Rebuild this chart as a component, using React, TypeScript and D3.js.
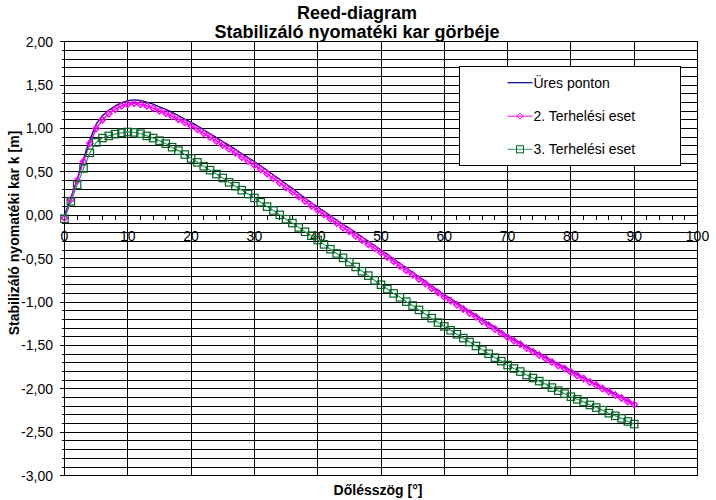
import React from "react";
import * as d3 from "d3";

const degrees: number[] = d3.range(0, 91);

const uresPonton: number[] = [
  0, 0.2, 0.42, 0.65, 0.87, 1.05, 1.15, 1.21, 1.26, 1.295,
  1.32, 1.33, 1.325, 1.305, 1.28, 1.25, 1.22, 1.185, 1.15, 1.11,
  1.07, 1.03, 0.985, 0.94, 0.895, 0.85, 0.805, 0.76, 0.71, 0.665,
  0.62, 0.57, 0.52, 0.465, 0.415, 0.36, 0.31, 0.255, 0.2, 0.145,
  0.095, 0.045, -0.005, -0.055, -0.105, -0.15, -0.2, -0.25, -0.3, -0.35,
  -0.4, -0.45, -0.505, -0.555, -0.605, -0.66, -0.71, -0.76, -0.815, -0.865,
  -0.915, -0.96, -1.01, -1.06, -1.105, -1.15, -1.2, -1.245, -1.29, -1.34,
  -1.385, -1.43, -1.47, -1.515, -1.555, -1.595, -1.635, -1.675, -1.715, -1.75,
  -1.79, -1.83, -1.87, -1.91, -1.945, -1.985, -2.02, -2.06, -2.095, -2.135,
  -2.17,
];

const terheles2: number[] = [
  -0.03, 0.18, 0.4, 0.62, 0.83, 1.0, 1.1, 1.17, 1.22, 1.26,
  1.28, 1.29, 1.28, 1.26, 1.235, 1.205, 1.175, 1.14, 1.105, 1.07,
  1.03, 0.99, 0.945, 0.9, 0.855, 0.81, 0.765, 0.72, 0.67, 0.625,
  0.58, 0.53, 0.48, 0.425, 0.375, 0.32, 0.27, 0.215, 0.165, 0.11,
  0.06, 0.01, -0.04, -0.09, -0.14, -0.185, -0.235, -0.285, -0.335, -0.38,
  -0.43, -0.48, -0.53, -0.585, -0.635, -0.685, -0.735, -0.785, -0.84, -0.89,
  -0.94, -0.985, -1.03, -1.08, -1.125, -1.17, -1.22, -1.265, -1.31, -1.36,
  -1.405, -1.445, -1.485, -1.53, -1.57, -1.61, -1.65, -1.69, -1.73, -1.765,
  -1.805, -1.845, -1.88, -1.92, -1.955, -1.995, -2.03, -2.07, -2.105, -2.145,
  -2.18,
];

const terheles3: number[] = [
  -0.04, 0.16, 0.35, 0.54, 0.72, 0.84, 0.89, 0.915, 0.935, 0.95,
  0.96, 0.955, 0.94, 0.915, 0.89, 0.86, 0.825, 0.785, 0.745, 0.7,
  0.655, 0.61, 0.565, 0.52, 0.475, 0.43, 0.38, 0.335, 0.29, 0.245,
  0.2, 0.15, 0.1, 0.055, 0.005, -0.045, -0.09, -0.14, -0.19, -0.235,
  -0.285, -0.335, -0.39, -0.44, -0.49, -0.54, -0.595, -0.645, -0.695, -0.75,
  -0.8, -0.85, -0.9, -0.945, -0.995, -1.04, -1.09, -1.14, -1.185, -1.235,
  -1.28, -1.325, -1.37, -1.415, -1.46, -1.505, -1.55, -1.595, -1.64, -1.68,
  -1.725, -1.765, -1.8, -1.84, -1.875, -1.91, -1.945, -1.985, -2.02, -2.055,
  -2.09, -2.12, -2.15, -2.185, -2.215, -2.245, -2.28, -2.31, -2.34, -2.375,
  -2.405,
];

const xTicks: number[] = [0, 10, 20, 30, 40, 50, 60, 70, 80, 90, 100];
const xMinorTicks: number[] = d3.range(0, 101, 2);
const yTicks: number[] = [-3, -2.5, -2, -1.5, -1, -0.5, 0, 0.5, 1, 1.5, 2];
const yGrid: number[] = d3.range(-30, 21).map((i) => i / 10);

const titleLines = ["Reed-diagram", "Stabilizáló nyomatéki kar görbéje"];
const xTitle = "Dőlésszög [°]";
const yTitle = "Stabilizáló nyomatéki kar k [m]";
const legendNames = ["Üres ponton", "2. Terhelési eset", "3. Terhelési eset"];

const W = 716;
const H = 500;
const FONT = "'Liberation Sans', Arial, sans-serif";

const NAVY = "#000080";
const MAGENTA = "#FF00FF";
const GREEN_LINE = "#339966";
const GREEN_MARK = "#006620";

export default function App() {
  const x = d3.scaleLinear().domain([0, 100]).range([64.5, 697.5]);
  const y = d3.scaleLinear().domain([-3, 2]).range([475.7, 41.7]);

  const line = (vals: number[]) =>
    d3
      .line<number>()
      .x((_, i) => x(degrees[i]))
      .y((v) => y(v))(vals) || "";

  const fmt = (v: number) => v.toFixed(2).replace(".", ",");

  const diamond = (cx: number, cy: number, r: number) =>
    `M${cx},${cy - r}L${cx + r},${cy}L${cx},${cy + r}L${cx - r},${cy}Z`;

  const lgX0 = 507.5;
  const lgX1 = 532.5;
  const lgMid = (lgX0 + lgX1) / 2;
  const lgYs = [82.7, 116.2, 149.3];

  return (
    <svg
      width={W}
      height={H}
      style={{ position: "absolute", left: 0, top: 0, background: "#fff" }}
      fontFamily={FONT}
    >
      <rect x={0} y={0} width={W} height={H} fill="#fff" />

      {/* title */}
      <text x={357} y={19} textAnchor="middle" fontSize={18} fontWeight="bold">
        {titleLines[0]}
      </text>
      <text x={357} y={37.5} textAnchor="middle" fontSize={18} fontWeight="bold">
        {titleLines[1]}
      </text>

      {/* x tick labels (gridlines cross them) */}
      {xTicks.map((t) => (
        <text key={"xl" + t} x={x(t)} y={240.5} textAnchor="middle" fontSize={14}>
          {t}
        </text>
      ))}

      {/* grid */}
      <g stroke="#000" strokeWidth={1} shapeRendering="crispEdges">
        {yGrid.map((v) => {
          const major = Math.abs(v * 2 - Math.round(v * 2)) < 1e-6;
          return (
            <line
              key={"hg" + v}
              x1={x(0) - (major ? 5 : 3)}
              x2={x(100)}
              y1={y(v)}
              y2={y(v)}
            />
          );
        })}
        {xTicks.map((t) => (
          <line key={"vg" + t} x1={x(t)} x2={x(t)} y1={y(2)} y2={y(-3)} />
        ))}
        {xMinorTicks.map((t) => (
          <line key={"mt" + t} x1={x(t)} x2={x(t)} y1={y(0)} y2={y(0) + 5} />
        ))}
        <rect
          x={x(0)}
          y={y(2)}
          width={x(100) - x(0)}
          height={y(-3) - y(2)}
          fill="none"
        />
      </g>

      {/* y tick labels */}
      {yTicks.map((t) => (
        <text
          key={"yl" + t}
          x={53}
          y={y(t)}
          dy="0.35em"
          textAnchor="end"
          fontSize={14}
        >
          {fmt(t)}
        </text>
      ))}

      {/* series */}
      <path d={line(uresPonton)} fill="none" stroke={NAVY} strokeWidth={1.3} />
      <path d={line(terheles2)} fill="none" stroke={MAGENTA} strokeWidth={1.5} />
      {terheles2.map((v, i) => (
        <path
          key={"m2" + i}
          d={diamond(x(degrees[i]), y(v), 3.2)}
          fill="none"
          stroke={MAGENTA}
          strokeWidth={1.4}
        />
      ))}
      <path d={line(terheles3)} fill="none" stroke={GREEN_LINE} strokeWidth={1.2} />
      {terheles3.map((v, i) => (
        <rect
          key={"m3" + i}
          x={x(degrees[i]) - 3.7}
          y={y(v) - 3.7}
          width={7.4}
          height={7.4}
          fill="none"
          stroke={GREEN_MARK}
          strokeWidth={1.2}
        />
      ))}

      {/* legend */}
      <rect
        x={459.5}
        y={66.5}
        width={221}
        height={99}
        fill="#fff"
        stroke="#000"
        strokeWidth={1}
        shapeRendering="crispEdges"
      />
      <line x1={lgX0} x2={lgX1} y1={lgYs[0]} y2={lgYs[0]} stroke={NAVY} strokeWidth={1.2} />
      <line x1={lgX0} x2={lgX1} y1={lgYs[1]} y2={lgYs[1]} stroke={MAGENTA} strokeWidth={1} />
      <path d={diamond(lgMid, lgYs[1], 3)} fill="none" stroke={MAGENTA} strokeWidth={1} />
      <line x1={lgX0} x2={lgX1} y1={lgYs[2]} y2={lgYs[2]} stroke={GREEN_LINE} strokeWidth={1} />
      <rect
        x={lgMid - 3.5}
        y={lgYs[2] - 3.5}
        width={7}
        height={7}
        fill="none"
        stroke={GREEN_MARK}
        strokeWidth={1}
      />
      {legendNames.map((n, i) => (
        <text key={"lg" + i} x={533.5} y={lgYs[i]} dy="0.35em" fontSize={14}>
          {n}
        </text>
      ))}

      {/* axis titles */}
      <text x={378} y={495} textAnchor="middle" fontSize={14} fontWeight="bold">
        {xTitle}
      </text>
      <text
        transform="translate(18.5,233) rotate(-90)"
        textAnchor="middle"
        fontSize={14}
        fontWeight="bold"
      >
        {yTitle}
      </text>
    </svg>
  );
}
